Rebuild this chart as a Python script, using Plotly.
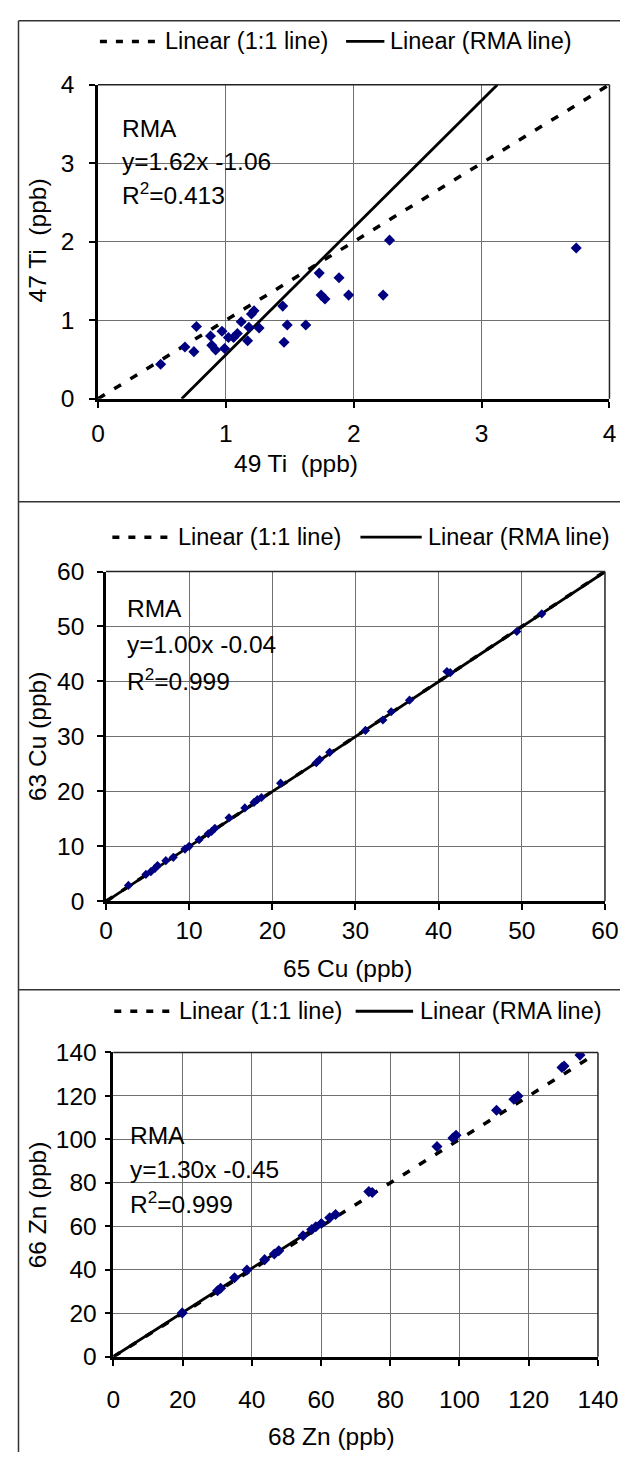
import plotly.graph_objects as go

W, H = 640, 1466
FONT = "Liberation Sans, Arial, sans-serif"
FS = 24.5      # ticks, axis titles, equation text
FS_LEG = 23.5  # legend row

# ---- data -------------------------------------------------------------
# Titanium: 49Ti vs 47Ti (ppb)
ti49 = [0.49, 0.68, 0.75, 0.77, 0.88, 0.89, 0.92, 0.97, 0.99, 1.02, 1.06, 1.09,
        1.12, 1.17, 1.18, 1.20, 1.22, 1.26, 1.445, 1.455, 1.48, 1.625, 1.73,
        1.745, 1.775, 1.885, 1.96, 2.23, 2.28, 3.74]
ti47 = [0.44, 0.66, 0.60, 0.92, 0.80, 0.68, 0.62, 0.86, 0.64, 0.78, 0.78, 0.83,
        0.98, 0.74, 0.91, 1.08, 1.12, 0.90, 1.18, 0.72, 0.94, 0.94, 1.60,
        1.32, 1.27, 1.54, 1.32, 1.32, 2.02, 1.92]
ti_rma = (1.62, -1.06, 0.413)

# Copper: 65Cu vs 63Cu (ppb)
cu65 = [2.7, 4.8, 5.4, 5.9, 6.2, 7.2, 8.1, 9.5, 10.0, 11.2, 12.3, 12.7, 13.1,
        14.8, 16.7, 17.8, 18.2, 18.7, 21.0, 25.3, 25.7, 26.9, 31.2, 33.3, 34.3,
        36.5, 41.0, 41.4, 49.4, 52.4]
cu63 = [2.9, 4.9, 5.4, 6.0, 6.5, 7.4, 8.0, 9.5, 10.0, 11.2, 12.3, 12.7, 13.3,
        15.2, 17.0, 18.0, 18.5, 18.9, 21.5, 25.2, 25.8, 27.1, 31.1, 33.0, 34.5,
        36.6, 41.8, 41.6, 49.1, 52.3]
cu_rma = (1.00, -0.04, 0.999)

# Zinc: 68Zn vs 66Zn (ppb)
zn68 = [19.9, 30.1, 31.0, 35.0, 38.6, 43.7, 46.5, 47.8, 54.8, 57.3, 58.5, 60.1,
        62.5, 64.2, 73.8, 74.8, 93.5, 98.1, 99.0, 110.7, 115.7, 116.9, 129.6,
        130.2, 134.8]
zn66 = [20.2, 30.4, 31.5, 36.4, 39.9, 44.7, 47.3, 48.8, 55.7, 58.6, 59.8, 61.3,
        64.0, 65.5, 76.0, 75.6, 96.7, 100.7, 101.9, 113.4, 118.5, 120.0, 133.1,
        133.8, 138.8]
zn_rma = (1.30, -0.45, 0.999)
zn_rma_line_x = [0, 58]
zn_rma_line_y = [0, 59]

# 1:1 reference line extents
ti_one_x = [0, 4]
cu_one_x = [0, 60]
zn_one_x = [0, 137]

tick_ti = [0, 1, 2, 3, 4]
tick_cu = [0, 10, 20, 30, 40, 50, 60]
tick_zn = [0, 20, 40, 60, 80, 100, 120, 140]

# ---- helpers ----------------------------------------------------------
def px(x):
    return x / W


def py(y):
    return 1 - y / H


fig = go.Figure()
shapes = []
annots = []

panels = [
    dict(ax="", xs=ti49, ys=ti47, one=ti_one_x, rma=ti_rma, ticks=tick_ti,
         dom=(95, 629, 73, 393), msize=8.5,
         xtitle="49 Ti  (ppb)", ytitle="47 Ti  (ppb)",
         xt=(302, 459), yt=(32, 232), xstand=5, ystand=10,
         box=(116, 300, 93, 207), txt=(118, 118, 33),
         leg=(29, 97, 160, 163, 354, 394, 398)),
    dict(ax="2", xs=cu65, ys=cu63, one=cu_one_x, rma=cu_rma, ticks=tick_cu,
         dom=(103.3, 624.3, 569, 905), msize=7,
         xtitle="65 Cu (ppb)", ytitle="63 Cu (ppb)",
         xt=(355, 973), yt=(32, 737), xstand=0, ystand=8,
         box=(116, 310, 588, 697), txt=(123, 607, 36),
         leg=(534, 110, 173, 176, 369, 433, 437)),
    dict(ax="3", xs=zn68, ys=zn66, one=zn_one_x, rma=zn_rma, ticks=tick_zn,
         dom=(111, 617, 1059, 1369), msize=8.5,
         xtitle="68 Zn (ppb)", ytitle="66 Zn (ppb)",
         xt=(339, 1450), yt=(32, 1214), xstand=13, ystand=3,
         box=(117, 293, 1117, 1237), txt=(126, 1144, 34),
         leg=(1017, 112, 175, 178, 364, 424, 429)),
]

for i, p in enumerate(panels):
    a = p["ax"]
    xa, ya = "x" + a, "y" + a
    slope, icpt, r2 = p["rma"]
    lo, hi = p["ticks"][0], p["ticks"][-1]

    # 1:1 line (dashed)
    fig.add_trace(go.Scatter(
        x=p["one"], y=p["one"], mode="lines", xaxis=xa, yaxis=ya,
        line=dict(color="black", width=3.5, dash="8px,11px"), showlegend=False,
        hoverinfo="skip"))

    # RMA line (solid)
    if i == 2:
        rx, ry = zn_rma_line_x, zn_rma_line_y
    else:
        x0 = max(lo, (lo - icpt) / slope)
        x1 = min(hi, (hi - icpt) / slope)
        rx = [x0, x1]
        ry = [slope * v + icpt for v in rx]
    fig.add_trace(go.Scatter(
        x=rx, y=ry, mode="lines", xaxis=xa, yaxis=ya,
        line=dict(color="black", width=2.8), showlegend=False,
        hoverinfo="skip"))

    # samples
    fig.add_trace(go.Scatter(
        x=p["xs"], y=p["ys"], mode="markers", xaxis=xa, yaxis=ya,
        marker=dict(symbol="diamond", color="#000080", size=p["msize"],
                    line=dict(width=0)),
        showlegend=False))

    l, r, t, b = p["dom"]
    axis_common = dict(
        range=[lo, hi], tickmode="array", tickvals=p["ticks"],
        showgrid=True, gridcolor="#707070", gridwidth=1,
        zeroline=False, showline=True, linecolor="black", linewidth=2.5,
        ticks="outside", ticklen=6, tickwidth=1.5, tickcolor="black",
        tickfont=dict(family=FONT, size=FS, color="black"), fixedrange=True,
    )
    fig.update_layout(**{
        "xaxis" + a: dict(axis_common, domain=[px(l), px(r)], anchor=ya,
                          ticklabelstandoff=p["xstand"]),
        "yaxis" + a: dict(axis_common, domain=[py(b), py(t)], anchor=xa,
                          ticklabelstandoff=p["ystand"]),
    })

    # top / right plot edges
    shapes.append(dict(type="line", xref=xa + " domain", yref=ya + " domain",
                       x0=0, x1=1, y0=1, y1=1,
                       line=dict(color="#222222", width=1.5)))
    shapes.append(dict(type="line", xref=xa + " domain", yref=ya + " domain",
                       x0=1, x1=1, y0=0, y1=1,
                       line=dict(color="#222222", width=1.5)))

    # equation box
    bl, br, bt, bb = p["box"]
    shapes.append(dict(type="rect", xref="paper", yref="paper", layer="between",
                       x0=px(bl), x1=px(br), y0=py(bb), y1=py(bt),
                       fillcolor="white", line=dict(width=0)))
    tx, ty, dy = p["txt"]
    sign = "-" if icpt < 0 else "+"
    lines = ["RMA", f"y={slope:.2f}x {sign}{abs(icpt):.2f}",
             f"R<sup>2</sup>={r2:.3f}"]
    for k, s in enumerate(lines):
        annots.append(dict(x=px(tx), y=py(ty + k * dy), xref="paper",
                           yref="paper", text=s, showarrow=False,
                           xanchor="left", yanchor="middle",
                           font=dict(family=FONT, size=FS, color="black")))

    # axis titles
    xtx, xty = p["xt"]
    annots.append(dict(x=px(xtx), y=py(xty), xref="paper", yref="paper",
                       text=p["xtitle"], showarrow=False,
                       xanchor="center", yanchor="middle",
                       font=dict(family=FONT, size=FS, color="black")))
    ytx, yty = p["yt"]
    annots.append(dict(x=px(ytx), y=py(yty), xref="paper", yref="paper",
                       text=p["ytitle"], showarrow=False, textangle=-90,
                       xanchor="center", yanchor="middle",
                       font=dict(family=FONT, size=FS, color="black")))

    # legend row
    ly, d0, d1, t1, s0, s1, t2 = p["leg"]
    shapes.append(dict(type="line", xref="paper", yref="paper",
                       x0=px(d0), x1=px(d1), y0=py(ly), y1=py(ly),
                       line=dict(color="black", width=3.5, dash="7px,9px")))
    shapes.append(dict(type="line", xref="paper", yref="paper",
                       x0=px(s0), x1=px(s1), y0=py(ly), y1=py(ly),
                       line=dict(color="black", width=2.8)))
    for xx, s in ((t1, "Linear (1:1 line)"), (t2, "Linear (RMA line)")):
        annots.append(dict(x=px(xx), y=py(ly), xref="paper", yref="paper",
                           text=s, showarrow=False, xanchor="left",
                           yanchor="middle",
                           font=dict(family=FONT, size=FS_LEG, color="black")))

# panel frames
frame = dict(color="#333333", width=1.5)
for yy in (8, 498, 995):
    shapes.append(dict(type="line", xref="paper", yref="paper",
                       x0=px(12), x1=1, y0=py(yy), y1=py(yy), line=frame))
shapes.append(dict(type="line", xref="paper", yref="paper",
                   x0=px(12), x1=px(12), y0=0, y1=py(8), line=frame))

fig.update_layout(
    width=W, height=H, autosize=False,
    margin=dict(l=0, r=0, t=0, b=0),
    paper_bgcolor="white", plot_bgcolor="white",
    showlegend=False, shapes=shapes, annotations=annots,
    font=dict(family=FONT, size=FS, color="black"),
)

fig.write_html("out.html")
